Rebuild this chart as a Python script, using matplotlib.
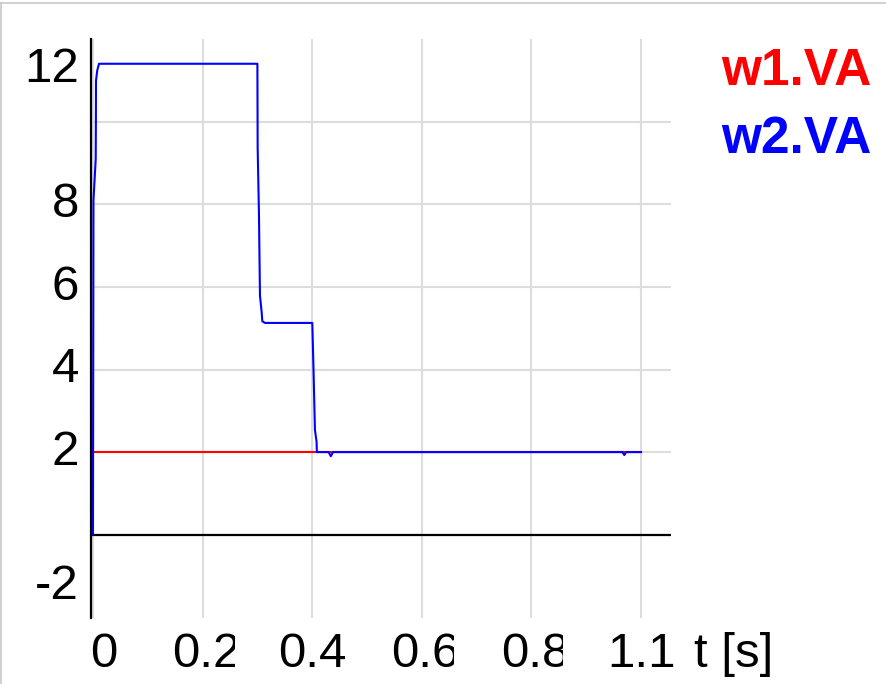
import matplotlib
matplotlib.use("Agg")
import matplotlib.pyplot as plt
from matplotlib.patches import Rectangle
from matplotlib.lines import Line2D
from matplotlib.transforms import IdentityTransform

plt.rcParams['font.family'] = ['Liberation Sans', 'DejaVu Sans']

# ---- data ----
t_w1 = [0.0, 1.0]
v_w1 = [2.0, 2.0]

t_w2 = [0.0, 0.0009, 0.0050, 0.0053, 0.0055, 0.0078, 0.011,
        0.300, 0.3005, 0.3029, 0.3047, 0.3078, 0.309, 0.314,
        0.4002, 0.4027, 0.405, 0.408, 0.4085, 0.430, 0.434, 0.438,
        0.966, 0.9695, 0.973, 1.0]
v_w2 = [0.0, 8.1, 9.1, 10.0, 11.0, 11.25, 11.41,
        11.41, 9.37, 7.74, 5.79, 5.39, 5.17, 5.13,
        5.13, 3.84, 2.54, 2.25, 2.0, 2.0, 1.9, 2.0,
        2.0, 1.93, 2.0, 2.0]

series_names = ["w1.VA", "w2.VA"]
series_colors = ["#ff0000", "#0000ff"]

grid_x = [0.0, 0.2, 0.4, 0.6, 0.8, 1.0]
grid_y = [2, 4, 6, 8, 10]

x_tick_values = [0.0, 0.2, 0.4, 0.6, 0.8, 1.0]
x_tick_labels = ["0", "0.2", "0.4", "0.6", "0.8", "1.1"]
x_label_clipped = [False, True, False, True, True, False]

y_tick_values = [-2, 2, 4, 6, 8, 12]
y_tick_labels = ["-2", "2", "4", "6", "8", "12"]

x_axis_title = "t [s]"

# ---- figure ----
W, H = 887, 684
fig = plt.figure(figsize=(W / 100, H / 100), dpi=100)
fig.patch.set_facecolor("white")

ax_l, ax_r, ax_t, ax_b = 91, 671, 39, 618
ax = fig.add_axes([ax_l / W, 1 - ax_b / H, (ax_r - ax_l) / W, (ax_b - ax_t) / H])
ax.set_xlim(-0.0036, 1.0547)
ax.set_ylim(-2.02, 12.01)

for name, s in ax.spines.items():
    s.set_visible(name == "left")
ax.spines["left"].set_color("black")
ax.spines["left"].set_linewidth(1.6)

ax.set_xticks(grid_x)
ax.set_yticks(grid_y)
ax.tick_params(length=0, labelbottom=False, labelleft=False)
ax.grid(True, color="#dddddd", lw=1.5, zorder=0)
ax.set_axisbelow(True)
ax.axhline(0, color="black", lw=1.6, zorder=1.5)

ax.plot(t_w1, v_w1, color=series_colors[0], lw=1.5, zorder=2)
ax.plot(t_w2, v_w2, color=series_colors[1], lw=1.5, zorder=2.1)

# ---- tick labels ----
FS = 35.5
fig.canvas.draw()
ymin, ymax = ax.get_ylim()
for v, lab in zip(y_tick_values, y_tick_labels):
    px, py = ax.transData.transform((0, v))
    dy = -12.5
    if v >= ymax - 0.5:
        dy -= 30.5
    elif v <= ymin + 0.5:
        dy += 30.5
    fig.text((ax_l - 12) / W, (py + dy) / H, lab, ha="right", va="baseline",
             fontsize=FS, color="black")

for i, (v, lab) in enumerate(zip(x_tick_values, x_tick_labels)):
    px, py = ax.transData.transform((v, 0))
    base_y = (H - ax_b - 49) / H
    if i == 0:
        fig.text((px - 3) / W, base_y, lab, ha="left", va="baseline",
                 fontsize=FS, color="black")
    elif x_label_clipped[i]:
        t = fig.text((px + 4) / W, base_y, lab, ha="center", va="baseline",
                     fontsize=FS, color="black")
        rect = Rectangle((px - 60, 0), 60 + 32, H, transform=IdentityTransform())
        t.set_clip_path(rect)
        t.set_clip_on(True)
    else:
        fig.text(px / W, base_y, lab, ha="center", va="baseline",
                 fontsize=FS, color="black")

fig.text(694 / W, (H - ax_b - 49) / H, x_axis_title, ha="left", va="baseline",
         fontsize=FS, color="black")

# ---- legend ----
fig.text(872 / W, 1 - 85 / H, series_names[0], ha="right", va="baseline",
         fontsize=37, fontweight="bold", color=series_colors[0])
fig.text(872 / W, 1 - 153 / H, series_names[1], ha="right", va="baseline",
         fontsize=37, fontweight="bold", color=series_colors[1])

# ---- outer frame ----
fig.add_artist(Line2D([0, 1], [1 - 3 / H, 1 - 3 / H], transform=fig.transFigure,
                      color="#c8c8c8", lw=1.2))
fig.add_artist(Line2D([1 / W, 1 / W], [0, 1 - 3 / H], transform=fig.transFigure,
                      color="#c8c8c8", lw=1.2))

fig.savefig("out.png", dpi=100)
